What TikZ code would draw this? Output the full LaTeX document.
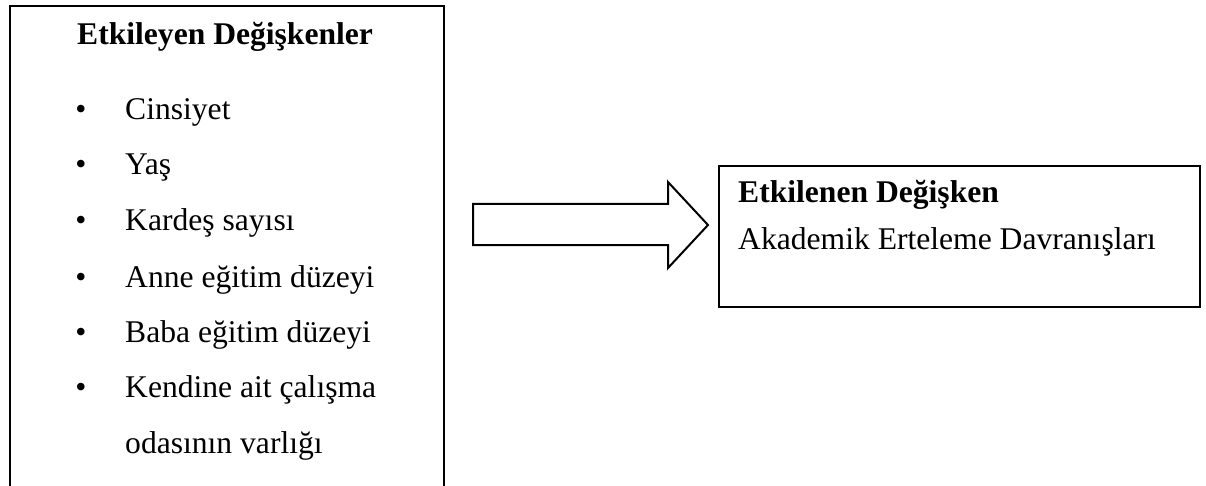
\documentclass[tikz,border=0pt]{standalone}
\usepackage{fontspec}
\setmainfont{Liberation Serif}
\begin{document}
\begin{tikzpicture}[x=1pt,y=-1pt,
  every node/.style={inner sep=0pt, font=\fontsize{31.6}{38}\selectfont},
  box/.style={draw, line width=2pt, anchor=north west},
  txt/.style={anchor=base west},
  dot/.style={anchor=base}]
\useasboundingbox (0,0) rectangle (1206,486);
\clip (0,0) rectangle (1206,486);
\fill[white] (0,0) rectangle (1206,486);

% left box, open at the bottom
\node[box, minimum width=434, minimum height=520] (lbox) at (9,5) {};
\node[txt] (lhead) at (77,45) {\textbf{Etkileyen Değişkenler}};

\node[dot] (b1) at (81,120) {•};
\node[txt] (i1) at (125,120) {Cinsiyet};
\node[dot] (b2) at (81,175) {•};
\node[txt] (i2) at (125,175) {Yaş};
\node[dot] (b3) at (81,230) {•};
\node[txt] (i3) at (125,230) {Kardeş sayısı};
\node[dot] (b4) at (81,287) {•};
\node[txt] (i4) at (125,287) {Anne eğitim düzeyi};
\node[dot] (b5) at (81,342) {•};
\node[txt] (i5) at (125,342) {Baba eğitim düzeyi};
\node[dot] (b6) at (81,397) {•};
\node[txt] (i6) at (125,397) {Kendine ait çalışma};
\node[txt] (i7) at (125,453) {odasının varlığı};

% block arrow
\draw[line width=2pt, line join=miter] (473,204) -- (668,204) -- (668,182) -- (708,225)
  -- (668,268) -- (668,245) -- (473,245) -- cycle;

% right box
\node[box, minimum width=481, minimum height=141] (rbox) at (718,165) {};
\node[txt] (rhead) at (738,203) {\textbf{Etkilenen Değişken}};
\node[txt] (r1) at (738,250) {Akademik Erteleme Davranışları};

\end{tikzpicture}
\end{document}
